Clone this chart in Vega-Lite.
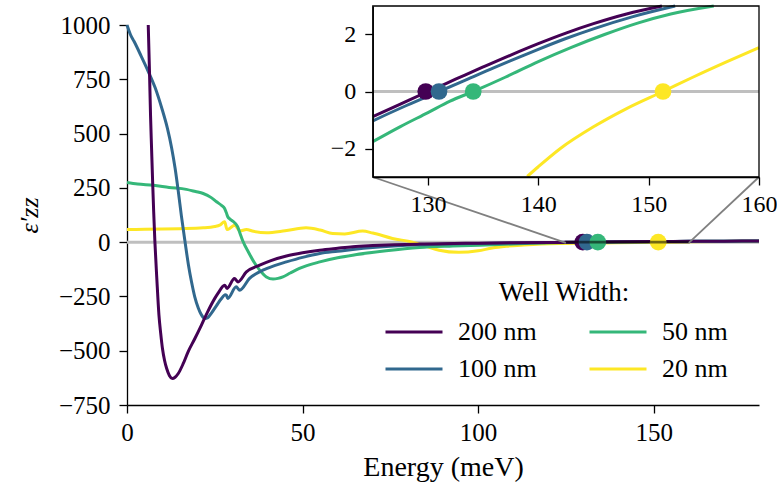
{
  "$schema": "https://vega.github.io/schema/vega-lite/v6.json",
  "width": 632,
  "height": 380,
  "autosize": {"type": "none"},
  "padding": {"left": 127, "top": 25, "right": 18, "bottom": 86},
  "background": "white",
  "datasets": {
    "main": [
      {"w": "20 nm", "x": 0, "y": 58}, {"w": "20 nm", "x": 5, "y": 59}, {"w": "20 nm", "x": 10, "y": 60}, {"w": "20 nm", "x": 15, "y": 62}, {"w": "20 nm", "x": 21.7, "y": 66}, {"w": "20 nm", "x": 25, "y": 72}, {"w": "20 nm", "x": 26.4, "y": 78}, {"w": "20 nm", "x": 27.8, "y": 94}, {"w": "20 nm", "x": 28.5, "y": 58}, {"w": "20 nm", "x": 29.5, "y": 66}, {"w": "20 nm", "x": 30.6, "y": 78}, {"w": "20 nm", "x": 31.3, "y": 68}, {"w": "20 nm", "x": 32.1, "y": 52}, {"w": "20 nm", "x": 34, "y": 58}, {"w": "20 nm", "x": 36, "y": 50}, {"w": "20 nm", "x": 39.7, "y": 43}, {"w": "20 nm", "x": 45, "y": 52}, {"w": "20 nm", "x": 51, "y": 66}, {"w": "20 nm", "x": 55, "y": 56}, {"w": "20 nm", "x": 58.6, "y": 40}, {"w": "20 nm", "x": 62, "y": 38}, {"w": "20 nm", "x": 67.1, "y": 51}, {"w": "20 nm", "x": 70, "y": 42}, {"w": "20 nm", "x": 75.6, "y": 17}, {"w": "20 nm", "x": 81.3, "y": 0}, {"w": "20 nm", "x": 85, "y": -18}, {"w": "20 nm", "x": 88.9, "y": -37}, {"w": "20 nm", "x": 94.5, "y": -47}, {"w": "20 nm", "x": 100, "y": -40}, {"w": "20 nm", "x": 104, "y": -27}, {"w": "20 nm", "x": 108, "y": -19}, {"w": "20 nm", "x": 113, "y": -13}, {"w": "20 nm", "x": 118, "y": -8.5}, {"w": "20 nm", "x": 123, "y": -6}, {"w": "20 nm", "x": 130, "y": -4.7}, {"w": "20 nm", "x": 139, "y": -2.98}, {"w": "20 nm", "x": 145, "y": -1.24}, {"w": "20 nm", "x": 151.3, "y": 0}, {"w": "20 nm", "x": 160, "y": 1.54}, {"w": "20 nm", "x": 170, "y": 3}, {"w": "20 nm", "x": 180, "y": 4.2},
      {"w": "50 nm", "x": 0, "y": 275}, {"w": "50 nm", "x": 3, "y": 268}, {"w": "50 nm", "x": 7.5, "y": 262}, {"w": "50 nm", "x": 12, "y": 252}, {"w": "50 nm", "x": 16.9, "y": 243}, {"w": "50 nm", "x": 19.5, "y": 233}, {"w": "50 nm", "x": 21.7, "y": 224}, {"w": "50 nm", "x": 24, "y": 205}, {"w": "50 nm", "x": 25.5, "y": 186}, {"w": "50 nm", "x": 27, "y": 168}, {"w": "50 nm", "x": 27.8, "y": 155}, {"w": "50 nm", "x": 28.3, "y": 135}, {"w": "50 nm", "x": 28.7, "y": 117}, {"w": "50 nm", "x": 29.4, "y": 105}, {"w": "50 nm", "x": 30.1, "y": 97}, {"w": "50 nm", "x": 31.5, "y": 71}, {"w": "50 nm", "x": 32.2, "y": 40}, {"w": "50 nm", "x": 32.9, "y": 9}, {"w": "50 nm", "x": 34.8, "y": -52}, {"w": "50 nm", "x": 36.3, "y": -95}, {"w": "50 nm", "x": 37.8, "y": -129}, {"w": "50 nm", "x": 39.7, "y": -160}, {"w": "50 nm", "x": 41.6, "y": -170}, {"w": "50 nm", "x": 43, "y": -167}, {"w": "50 nm", "x": 44.4, "y": -160}, {"w": "50 nm", "x": 46.5, "y": -142}, {"w": "50 nm", "x": 49.1, "y": -121}, {"w": "50 nm", "x": 54.9, "y": -91}, {"w": "50 nm", "x": 60, "y": -72}, {"w": "50 nm", "x": 64.3, "y": -60}, {"w": "50 nm", "x": 73.8, "y": -40}, {"w": "50 nm", "x": 83.3, "y": -25}, {"w": "50 nm", "x": 92.8, "y": -18}, {"w": "50 nm", "x": 105.9, "y": -11}, {"w": "50 nm", "x": 115, "y": -5.5}, {"w": "50 nm", "x": 125, "y": -1.76}, {"w": "50 nm", "x": 134.1, "y": 0}, {"w": "50 nm", "x": 140, "y": 1.05}, {"w": "50 nm", "x": 146, "y": 2.0}, {"w": "50 nm", "x": 155.9, "y": 3.0}, {"w": "50 nm", "x": 165, "y": 3.8}, {"w": "50 nm", "x": 180, "y": 4.8},
      {"w": "100 nm", "x": 0, "y": 1000}, {"w": "100 nm", "x": 1, "y": 955}, {"w": "100 nm", "x": 2, "y": 925}, {"w": "100 nm", "x": 4, "y": 858}, {"w": "100 nm", "x": 6, "y": 788}, {"w": "100 nm", "x": 8, "y": 712}, {"w": "100 nm", "x": 10, "y": 612}, {"w": "100 nm", "x": 11.5, "y": 525}, {"w": "100 nm", "x": 12.7, "y": 435}, {"w": "100 nm", "x": 13.7, "y": 340}, {"w": "100 nm", "x": 14.6, "y": 235}, {"w": "100 nm", "x": 15.5, "y": 120}, {"w": "100 nm", "x": 16.5, "y": 5}, {"w": "100 nm", "x": 17.5, "y": -105}, {"w": "100 nm", "x": 18.4, "y": -185}, {"w": "100 nm", "x": 19.3, "y": -252}, {"w": "100 nm", "x": 20.3, "y": -303}, {"w": "100 nm", "x": 21.2, "y": -335}, {"w": "100 nm", "x": 22.2, "y": -352}, {"w": "100 nm", "x": 23, "y": -348}, {"w": "100 nm", "x": 24, "y": -328}, {"w": "100 nm", "x": 25.5, "y": -292}, {"w": "100 nm", "x": 26.8, "y": -262}, {"w": "100 nm", "x": 28, "y": -242}, {"w": "100 nm", "x": 28.3, "y": -244}, {"w": "100 nm", "x": 28.7, "y": -259}, {"w": "100 nm", "x": 31.1, "y": -206}, {"w": "100 nm", "x": 32.1, "y": -221}, {"w": "100 nm", "x": 34.9, "y": -167}, {"w": "100 nm", "x": 38.7, "y": -129}, {"w": "100 nm", "x": 42, "y": -108}, {"w": "100 nm", "x": 45.4, "y": -91}, {"w": "100 nm", "x": 50, "y": -70}, {"w": "100 nm", "x": 54.9, "y": -52}, {"w": "100 nm", "x": 60, "y": -42}, {"w": "100 nm", "x": 64.3, "y": -34}, {"w": "100 nm", "x": 70, "y": -25}, {"w": "100 nm", "x": 76, "y": -18}, {"w": "100 nm", "x": 83.3, "y": -12}, {"w": "100 nm", "x": 90, "y": -9}, {"w": "100 nm", "x": 100, "y": -6}, {"w": "100 nm", "x": 110, "y": -3.8}, {"w": "100 nm", "x": 120, "y": -1.95}, {"w": "100 nm", "x": 125, "y": -1.03}, {"w": "100 nm", "x": 131, "y": 0}, {"w": "100 nm", "x": 140, "y": 1.48}, {"w": "100 nm", "x": 152.4, "y": 3.0}, {"w": "100 nm", "x": 160, "y": 3.7}, {"w": "100 nm", "x": 170, "y": 4.4}, {"w": "100 nm", "x": 180, "y": 5.0},
      {"w": "200 nm", "x": 6.05, "y": 1000}, {"w": "200 nm", "x": 6.4, "y": 790}, {"w": "200 nm", "x": 6.7, "y": 585}, {"w": "200 nm", "x": 7.0, "y": 430}, {"w": "200 nm", "x": 7.3, "y": 278}, {"w": "200 nm", "x": 7.6, "y": 140}, {"w": "200 nm", "x": 7.95, "y": 0}, {"w": "200 nm", "x": 8.5, "y": -170}, {"w": "200 nm", "x": 9.1, "y": -336}, {"w": "200 nm", "x": 9.6, "y": -420}, {"w": "200 nm", "x": 10.1, "y": -490}, {"w": "200 nm", "x": 10.7, "y": -545}, {"w": "200 nm", "x": 11.3, "y": -582}, {"w": "200 nm", "x": 12.1, "y": -615}, {"w": "200 nm", "x": 12.9, "y": -628}, {"w": "200 nm", "x": 13.7, "y": -622}, {"w": "200 nm", "x": 14.6, "y": -605}, {"w": "200 nm", "x": 16, "y": -560}, {"w": "200 nm", "x": 17.4, "y": -505}, {"w": "200 nm", "x": 19.3, "y": -445}, {"w": "200 nm", "x": 21.2, "y": -382}, {"w": "200 nm", "x": 23, "y": -320}, {"w": "200 nm", "x": 25, "y": -259}, {"w": "200 nm", "x": 25.9, "y": -236}, {"w": "200 nm", "x": 27.8, "y": -198}, {"w": "200 nm", "x": 28.5, "y": -213}, {"w": "200 nm", "x": 30.6, "y": -167}, {"w": "200 nm", "x": 31.6, "y": -183}, {"w": "200 nm", "x": 34, "y": -137}, {"w": "200 nm", "x": 37.8, "y": -106}, {"w": "200 nm", "x": 41, "y": -85}, {"w": "200 nm", "x": 45.4, "y": -64}, {"w": "200 nm", "x": 50, "y": -49}, {"w": "200 nm", "x": 54.9, "y": -37}, {"w": "200 nm", "x": 60, "y": -28}, {"w": "200 nm", "x": 64.3, "y": -21}, {"w": "200 nm", "x": 70, "y": -16}, {"w": "200 nm", "x": 76, "y": -12}, {"w": "200 nm", "x": 83.3, "y": -9}, {"w": "200 nm", "x": 90, "y": -7}, {"w": "200 nm", "x": 100, "y": -4.8}, {"w": "200 nm", "x": 110, "y": -3.1}, {"w": "200 nm", "x": 120, "y": -1.75}, {"w": "200 nm", "x": 125, "y": -0.88}, {"w": "200 nm", "x": 130, "y": 0}, {"w": "200 nm", "x": 140, "y": 1.68}, {"w": "200 nm", "x": 151.2, "y": 3.0}, {"w": "200 nm", "x": 160, "y": 3.8}, {"w": "200 nm", "x": 170, "y": 4.5}, {"w": "200 nm", "x": 180, "y": 5.1}
    ],
    "inset": [
      {"w": "20 nm", "x": 139, "y": -2.98}, {"w": "20 nm", "x": 140, "y": -2.64}, {"w": "20 nm", "x": 142, "y": -2.0}, {"w": "20 nm", "x": 145, "y": -1.24}, {"w": "20 nm", "x": 148, "y": -0.6}, {"w": "20 nm", "x": 151.3, "y": 0}, {"w": "20 nm", "x": 154, "y": 0.5}, {"w": "20 nm", "x": 157, "y": 1.03}, {"w": "20 nm", "x": 160, "y": 1.54},
      {"w": "50 nm", "x": 125, "y": -1.76}, {"w": "50 nm", "x": 127.5, "y": -1.23}, {"w": "50 nm", "x": 130, "y": -0.74}, {"w": "50 nm", "x": 132, "y": -0.34}, {"w": "50 nm", "x": 134.1, "y": 0}, {"w": "50 nm", "x": 137, "y": 0.5}, {"w": "50 nm", "x": 140, "y": 1.05}, {"w": "50 nm", "x": 143, "y": 1.55}, {"w": "50 nm", "x": 146, "y": 2.0}, {"w": "50 nm", "x": 149, "y": 2.4}, {"w": "50 nm", "x": 152, "y": 2.72}, {"w": "50 nm", "x": 155.9, "y": 3.0},
      {"w": "100 nm", "x": 125, "y": -1.03}, {"w": "100 nm", "x": 128, "y": -0.5}, {"w": "100 nm", "x": 131, "y": 0}, {"w": "100 nm", "x": 133.5, "y": 0.42}, {"w": "100 nm", "x": 136, "y": 0.84}, {"w": "100 nm", "x": 138, "y": 1.16}, {"w": "100 nm", "x": 140, "y": 1.48}, {"w": "100 nm", "x": 142.5, "y": 1.86}, {"w": "100 nm", "x": 145, "y": 2.2}, {"w": "100 nm", "x": 148.5, "y": 2.62}, {"w": "100 nm", "x": 152.4, "y": 3.0},
      {"w": "200 nm", "x": 125, "y": -0.88}, {"w": "200 nm", "x": 127.5, "y": -0.44}, {"w": "200 nm", "x": 130, "y": 0}, {"w": "200 nm", "x": 132.5, "y": 0.43}, {"w": "200 nm", "x": 135, "y": 0.86}, {"w": "200 nm", "x": 137.5, "y": 1.28}, {"w": "200 nm", "x": 140, "y": 1.68}, {"w": "200 nm", "x": 142.5, "y": 2.05}, {"w": "200 nm", "x": 145, "y": 2.38}, {"w": "200 nm", "x": 148, "y": 2.72}, {"w": "200 nm", "x": 151.2, "y": 3.0}
    ],
    "zeros": [
      {"w": "200 nm", "x": 129.8, "y": 0},
      {"w": "100 nm", "x": 131, "y": 0},
      {"w": "50 nm", "x": 134.1, "y": 0},
      {"w": "20 nm", "x": 151.3, "y": 0}
    ]
  },
  "layer": [
    {
      "layer": [
        {
          "data": {"values": [{}]},
          "mark": {"type": "rule", "color": "#bfbfbf", "strokeWidth": 3},
          "encoding": {
            "y": {"datum": 0, "type": "quantitative", "scale": {"domain": [-750, 1000], "nice": false, "zero": false}}
          }
        },
        {
          "data": {"name": "main"},
          "mark": {"type": "line", "strokeWidth": 3, "interpolate": "monotone"},
          "encoding": {
            "x": {"field": "x", "type": "quantitative", "scale": {"domain": [0, 180], "nice": false, "zero": false},
                  "axis": {"values": [0, 50, 100, 150], "format": "d", "title": "Energy (meV)", "titleFontSize": 28, "titlePadding": 8, "labelPadding": 7}},
            "y": {"field": "y", "type": "quantitative", "scale": {"domain": [-750, 1000], "nice": false, "zero": false},
                  "axis": {"values": [-750, -500, -250, 0, 250, 500, 750, 1000], "format": "d", "title": "ε′zz", "titleFontStyle": "italic", "titleFontSize": 26, "titlePadding": 16, "labelPadding": 9}},
            "color": {"field": "w", "type": "nominal", "title": "Well Width:",
                      "scale": {"domain": ["200 nm", "100 nm", "50 nm", "20 nm"], "range": ["#440154", "#31688e", "#35b779", "#fde725"]}}
          }
        },
        {
          "data": {"name": "zeros"},
          "mark": {"type": "circle", "size": 280, "opacity": 1},
          "encoding": {
            "x": {"field": "x", "type": "quantitative", "scale": {"domain": [0, 180], "nice": false, "zero": false}},
            "y": {"field": "y", "type": "quantitative", "scale": {"domain": [-750, 1000], "nice": false, "zero": false}},
            "color": {"field": "w", "type": "nominal"}
          }
        },
        {
          "data": {"values": [{}]},
          "mark": {"type": "rect", "fillOpacity": 0, "stroke": "#000", "strokeOpacity": 0.55, "strokeWidth": 1.6},
          "encoding": {
            "x": {"datum": 125, "type": "quantitative", "scale": {"domain": [0, 180], "nice": false, "zero": false}},
            "x2": {"datum": 160},
            "y": {"datum": -3, "type": "quantitative", "scale": {"domain": [-750, 1000], "nice": false, "zero": false}},
            "y2": {"datum": 3}
          }
        },
        {
          "data": {"values": [{}]},
          "mark": {"type": "rule", "color": "#808080", "strokeWidth": 1.8},
          "encoding": {
            "x": {"datum": 70, "type": "quantitative", "scale": {"domain": [0, 180], "nice": false, "zero": false}},
            "x2": {"datum": 125},
            "y": {"datum": 300, "type": "quantitative", "scale": {"domain": [-750, 1000], "nice": false, "zero": false}},
            "y2": {"datum": -3}
          }
        },
        {
          "data": {"values": [{}]},
          "mark": {"type": "rule", "color": "#808080", "strokeWidth": 1.8},
          "encoding": {
            "x": {"datum": 180, "type": "quantitative", "scale": {"domain": [0, 180], "nice": false, "zero": false}},
            "x2": {"datum": 160},
            "y": {"datum": 300, "type": "quantitative", "scale": {"domain": [-750, 1000], "nice": false, "zero": false}},
            "y2": {"datum": -3}
          }
        }
      ]
    },
    {
      "layer": [
        {
          "data": {"values": [{}]},
          "mark": {"type": "rect", "fill": "white", "strokeWidth": 0},
          "encoding": {
            "x": {"datum": 125, "type": "quantitative", "scale": {"domain": [125, 160], "range": [245.8, 632], "nice": false, "zero": false}},
            "x2": {"datum": 160},
            "y": {"datum": -3, "type": "quantitative", "scale": {"domain": [-3, 3], "range": [152, -19], "nice": false, "zero": false}},
            "y2": {"datum": 3}
          }
        },
        {
          "data": {"values": [{}]},
          "mark": {"type": "rule", "color": "#bfbfbf", "strokeWidth": 3},
          "encoding": {
            "x": {"datum": 125, "type": "quantitative", "scale": {"domain": [125, 160], "range": [245.8, 632], "nice": false, "zero": false}},
            "x2": {"datum": 160},
            "y": {"datum": 0, "type": "quantitative", "scale": {"domain": [-3, 3], "range": [152, -19], "nice": false, "zero": false}}
          }
        },
        {
          "data": {"name": "inset"},
          "mark": {"type": "line", "strokeWidth": 3, "interpolate": "monotone"},
          "encoding": {
            "x": {"field": "x", "type": "quantitative", "scale": {"domain": [125, 160], "range": [245.8, 632], "nice": false, "zero": false},
                  "axis": {"orient": "bottom", "offset": -228, "values": [130, 140, 150, 160], "format": "d", "title": null, "labelFontSize": 24, "labelPadding": 7, "zindex": 1}},
            "y": {"field": "y", "type": "quantitative", "scale": {"domain": [-3, 3], "range": [152, -19], "nice": false, "zero": false},
                  "axis": {"orient": "left", "offset": -245.8, "values": [-2, 0, 2], "format": "d", "title": null, "labelFontSize": 24, "labelPadding": 9, "zindex": 1}},
            "color": {"field": "w", "type": "nominal"}
          }
        },
        {
          "data": {"name": "zeros"},
          "mark": {"type": "circle", "size": 280, "opacity": 1},
          "encoding": {
            "x": {"field": "x", "type": "quantitative", "scale": {"domain": [125, 160], "range": [245.8, 632], "nice": false, "zero": false}},
            "y": {"field": "y", "type": "quantitative", "scale": {"domain": [-3, 3], "range": [152, -19], "nice": false, "zero": false}},
            "color": {"field": "w", "type": "nominal"}
          }
        },
        {
          "data": {"values": [{}]},
          "mark": {"type": "rect", "fillOpacity": 0, "stroke": "#000", "strokeWidth": 1.3},
          "encoding": {
            "x": {"datum": 125, "type": "quantitative", "scale": {"domain": [125, 160], "range": [245.8, 632], "nice": false, "zero": false}},
            "x2": {"datum": 160},
            "y": {"datum": -3, "type": "quantitative", "scale": {"domain": [-3, 3], "range": [152, -19], "nice": false, "zero": false}},
            "y2": {"datum": 3}
          }
        }
      ]
    }
  ],
  "resolve": {
    "scale": {"x": "independent", "y": "independent", "color": "shared"},
    "axis": {"x": "independent", "y": "independent"}
  },
  "config": {
    "font": "Liberation Serif",
    "view": {"stroke": null},
    "axis": {
      "labelFont": "Liberation Serif", "labelFontSize": 25, "labelColor": "#000",
      "titleFont": "Liberation Serif", "titleFontWeight": "normal", "titleColor": "#000",
      "domainColor": "#000", "domainWidth": 1.3, "tickColor": "#000", "tickWidth": 1.3, "tickSize": 8,
      "grid": false, "labelFlush": false, "labelOverlap": false, "labelBound": false
    },
    "legend": {
      "orient": "none", "legendX": 274, "legendY": 255, "columns": 2,
      "symbolType": "M-3,0H3", "symbolSize": 361, "symbolStrokeWidth": 3.2, "symbolOpacity": 1,
      "labelOffset": 31, "columnPadding": 46, "rowPadding": 11, "titlePadding": 12,
      "titleAnchor": "middle", "labelFontSize": 26, "titleFontSize": 27, "titleFontWeight": "normal",
      "labelFont": "Liberation Serif", "titleFont": "Liberation Serif", "labelColor": "#000", "titleColor": "#000", "labelLimit": 0
    }
  }
}
